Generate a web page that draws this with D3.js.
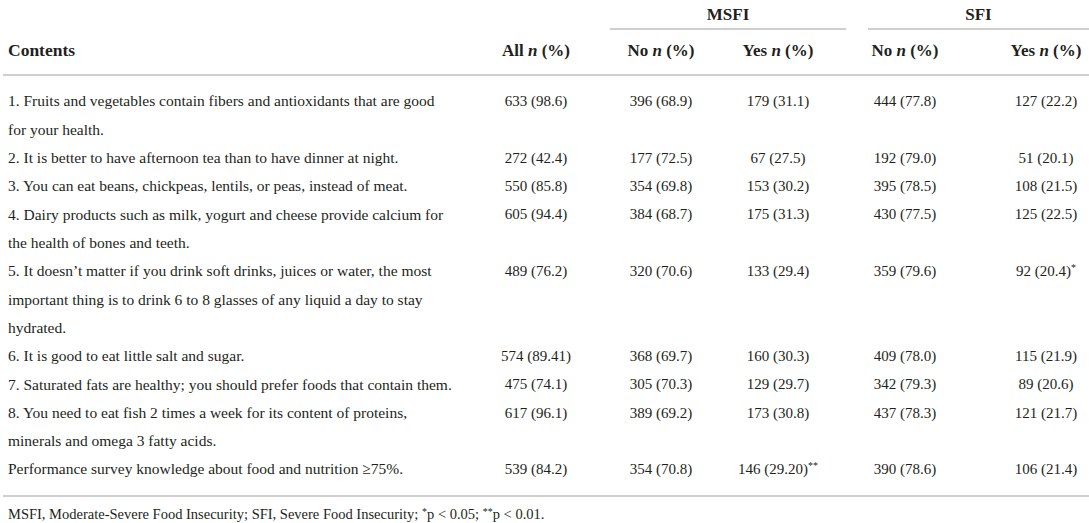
<!DOCTYPE html>
<html>
<head>
<meta charset="utf-8">
<script src="https://cdn.jsdelivr.net/npm/d3@7"></script>
<style>
  body { margin: 0; background: #fff; }
  svg text { font-family: "Liberation Serif", "DejaVu Serif", serif; fill: #231f20; }
</style>
</head>
<body>
<div class="canvas"></div>
<script>
// table contents, one entry per row, lines as wrapped in the original
const contents = [
  ['1. Fruits and vegetables contain fibers and antioxidants that are good', 'for your health.'],
  ['2. It is better to have afternoon tea than to have dinner at night.'],
  ['3. You can eat beans, chickpeas, lentils, or peas, instead of meat.'],
  ['4. Dairy products such as milk, yogurt and cheese provide calcium for', 'the health of bones and teeth.'],
  ['5. It doesn\u2019t matter if you drink soft drinks, juices or water, the most', 'important thing is to drink 6 to 8 glasses of any liquid a day to stay', 'hydrated.'],
  ['6. It is good to eat little salt and sugar.'],
  ['7. Saturated fats are healthy; you should prefer foods that contain them.'],
  ['8. You need to eat fish 2 times a week for its content of proteins,', 'minerals and omega 3 fatty acids.'],
  ['Performance survey knowledge about food and nutrition \u226575%.']
]

const allN      = ['633 (98.6)', '272 (42.4)', '550 (85.8)', '605 (94.4)', '489 (76.2)', '574 (89.41)', '475 (74.1)', '617 (96.1)', '539 (84.2)']
const msfiNo    = ['396 (68.9)', '177 (72.5)', '354 (69.8)', '384 (68.7)', '320 (70.6)', '368 (69.7)', '305 (70.3)', '389 (69.2)', '354 (70.8)']
const msfiYes   = ['179 (31.1)', '67 (27.5)', '153 (30.2)', '175 (31.3)', '133 (29.4)', '160 (30.3)', '129 (29.7)', '173 (30.8)', '146 (29.20)']
const sfiNo     = ['444 (77.8)', '192 (79.0)', '395 (78.5)', '430 (77.5)', '359 (79.6)', '409 (78.0)', '342 (79.3)', '437 (78.3)', '390 (78.6)']
const sfiYes    = ['127 (22.2)', '51 (20.1)', '108 (21.5)', '125 (22.5)', '92 (20.4)', '115 (21.9)', '89 (20.6)', '121 (21.7)', '106 (21.4)']
// significance marks (row index -> stars)
const msfiYesSig = {8: '**'}
const sfiYesSig  = {4: '*'}

const columns = ['all', 'msfiNo', 'msfiYes', 'sfiNo', 'sfiYes']
const columnHeads = ['All', 'No', 'Yes', 'No', 'Yes']
const groups = ['MSFI', 'SFI']
const footnote = [['MSFI, Moderate-Severe Food Insecurity; SFI, Severe Food Insecurity; ', false], ['*', true], ['p < 0.05; ', false], ['**', true], ['p < 0.01.', false]]

const width = 1089, height = 523

const svg = d3.select('.canvas')
  .append('svg')
  .attr('width', width)
  .attr('height', height)

const x = d3.scaleOrdinal()
  .domain(columns)
  .range([536, 661, 778, 905, 1046])

const totalLines = d3.sum(contents, d => d.length)
const y = d3.scaleLinear()
  .domain([0, totalLines - 1])
  .range([101, 469])

const groupSpan = {MSFI: [610, 846], SFI: [868, 1089]}

const rule = (y0, x1, x2) => svg.append('line')
  .attr('x1', x1).attr('x2', x2)
  .attr('y1', y0).attr('y2', y0)
  .attr('stroke', '#cfcfcf')
  .attr('stroke-width', 2)

// group headers
groups.forEach(g => {
  svg.append('text')
    .attr('x', (groupSpan[g][0] + groupSpan[g][1]) / 2)
    .attr('y', 14)
    .attr('dy', '0.35em')
    .attr('text-anchor', 'middle')
    .style('font-size', '17px')
    .style('font-weight', 'bold')
    .text(g)
  rule(29, groupSpan[g][0], groupSpan[g][1])
})

// column headers
svg.append('text')
  .attr('x', 8)
  .attr('y', 50)
  .attr('dy', '0.35em')
  .style('font-size', '17.5px')
  .style('font-weight', 'bold')
  .text('Contents')

columns.forEach((c, i) => {
  const t = svg.append('text')
    .attr('x', x(c))
    .attr('y', 50)
    .attr('dy', '0.35em')
    .attr('text-anchor', 'middle')
    .style('font-size', '17px')
    .style('font-weight', 'bold')
  t.append('tspan').text(columnHeads[i] + ' ')
  t.append('tspan').style('font-style', 'italic').text('n')
  t.append('tspan').text(' (%)')
})

rule(75, 3, width)

// rows
let lineIdx = 0
contents.forEach((lines, r) => {
  const rowY = y(lineIdx)
  lines.forEach((ln, k) => {
    svg.append('text')
      .attr('x', 8)
      .attr('y', y(lineIdx + k))
      .attr('dy', '0.35em')
      .style('font-size', '15.5px')
      .text(ln)
  })
  const vals = [allN[r], msfiNo[r], msfiYes[r], sfiNo[r], sfiYes[r]]
  const sigs = ['', '', msfiYesSig[r] || '', '', sfiYesSig[r] || '']
  vals.forEach((v, i) => {
    const t = svg.append('text')
      .attr('x', x(columns[i]))
      .attr('y', rowY)
      .attr('dy', '0.35em')
      .attr('text-anchor', 'middle')
      .style('font-size', '15px')
    t.append('tspan').text(v)
    if (sigs[i]) {
      t.append('tspan')
        .attr('dy', -5)
        .style('font-size', '10px')
        .text(sigs[i])
    }
  })
  lineIdx += lines.length
})

rule(y(totalLines - 1) + 27, 3, width)

// footnote
const fn = svg.append('text')
  .attr('x', 8)
  .attr('y', y(totalLines - 1) + 45)
  .attr('dy', '0.35em')
  .style('font-size', '14.5px')
let raised = false
footnote.forEach(([s, sup]) => {
  const ts = fn.append('tspan').text(s)
  if (sup && !raised) { ts.attr('dy', -4).style('font-size', '10px'); raised = true }
  else if (sup) ts.style('font-size', '10px')
  else if (raised) { ts.attr('dy', 4); raised = false }
})
</script>
</body>
</html>
